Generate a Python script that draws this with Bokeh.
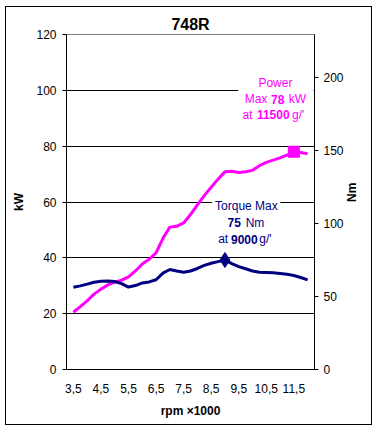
import math
from bokeh.plotting import figure
from bokeh.models import Range1d, LinearAxis, FixedTicker, Label, BoxAnnotation
from bokeh.embed import file_html
from bokeh.resources import INLINE

# ---- data ----
rpm = [3.5, 3.75, 4.0, 4.25, 4.5, 4.75, 5.0, 5.25, 5.5, 5.75, 6.0, 6.25, 6.5, 6.75,
       7.0, 7.25, 7.5, 7.75, 8.0, 8.25, 8.5, 8.75, 9.0, 9.25, 9.5, 9.75, 10.0,
       10.25, 10.5, 10.75, 11.0, 11.25, 11.5, 11.75, 12.0]
power_kw = [20.5, 22.5, 24.6, 27.0, 28.8, 30.3, 31.3, 32.0, 33.2, 35.3, 37.8, 39.5,
            41.8, 47.0, 51.0, 51.3, 52.5, 55.5, 59.0, 62.3, 65.3, 68.2, 70.8, 71.0,
            70.6, 70.8, 71.4, 73.0, 74.2, 75.0, 75.8, 76.8, 78.0, 77.7, 77.3]
torque_nm = [56.4, 57.3, 58.5, 59.8, 60.5, 60.6, 60.3, 58.8, 56.5, 57.5, 59.3, 60.0,
             61.5, 66.0, 68.5, 67.5, 66.6, 67.5, 69.2, 71.3, 72.8, 73.9, 75.0, 72.5,
             70.5, 69.0, 67.5, 66.6, 66.5, 66.2, 65.8, 65.2, 64.4, 63.0, 61.4]
x_ticks = [3.5, 4.5, 5.5, 6.5, 7.5, 8.5, 9.5, 10.5, 11.5]
x_tick_labels = ["3,5", "4,5", "5,5", "6,5", "7,5", "8,5", "9,5", "10,5", "11,5"]
kw_ticks = [0, 20, 40, 60, 80, 100, 120]
nm_ticks = [0, 50, 100, 150, 200]
power_peak_rpm = [11.5]
power_peak_kw = [78]
torque_peak_rpm = [9.0]
torque_peak_nm = [75]

FONT = "Liberation Sans"
MAGENTA = "#FF00FF"
NAVY = "#000080"

# page geometry: outer border 5..372 x 6..425 ; frame 64..318 x 34..369
X0, X1 = 3.25, 12.25
Y0, Y1 = 0, 120
OX, OY = 9, 10          # figure box origin (border drawn 4px outside it)
W, H = 359, 411
FL, FR, FT, FB = 64.0, 318.0, 34.0, 369.0


def dx(px):
    return X0 + (px - FL) * (X1 - X0) / (FR - FL)


def dy(py):
    return Y0 + (FB - py) * (Y1 - Y0) / (FB - FT)


p = figure(width=W, height=H, x_range=Range1d(X0, X1), y_range=Range1d(Y0, Y1),
           output_backend="svg", toolbar_location=None,
           min_border_left=int(FL - OX), min_border_right=int(OX + W - FR),
           min_border_top=int(FT - OY), min_border_bottom=int(OY + H - FB))
p.styles = {"margin-left": f"{OX}px", "margin-top": f"{OY}px",
            "outline": "1px solid black", "outline-offset": "3px"}
p.background_fill_color = "white"
p.border_fill_color = "white"
p.outline_line_color = "#808080"
p.outline_line_width = 1

# title
p.title.text = "748R"
p.title.align = "center"
p.title.text_font = FONT
p.title.text_font_size = "16px"
p.title.text_font_style = "bold"
p.title.text_color = "black"
p.title.standoff = 4
p.title.offset = -3

p.extra_y_ranges = {"nm": Range1d(0, 229.5)}

# grid
p.xgrid.visible = False
p.ygrid.ticker = FixedTicker(ticks=[t for t in kw_ticks if 0 < t < 120])
p.ygrid.grid_line_color = "black"
p.ygrid.grid_line_width = 1


def style_axis(ax, tick_out, standoff):
    ax.major_tick_out = tick_out
    ax.major_tick_in = 0
    ax.minor_tick_out = 0
    ax.minor_tick_in = 0
    ax.major_label_standoff = standoff
    ax.axis_line_color = "black"
    ax.major_tick_line_color = "black"
    ax.major_label_text_font = FONT
    ax.major_label_text_font_size = "12px"
    ax.major_label_text_color = "black"
    ax.axis_label_text_font = FONT
    ax.axis_label_text_font_size = "12px"
    ax.axis_label_text_font_style = "bold"
    ax.axis_label_text_color = "black"


# x axis
xa = p.xaxis[0]
xa.ticker = FixedTicker(ticks=x_ticks)
xa.major_label_overrides = {t: l for t, l in zip(x_ticks, x_tick_labels)}
style_axis(xa, 0, 14)
xa.axis_label = "rpm ×1000"
xa.axis_label_standoff = 8

# left axis
ya = p.yaxis[0]
ya.ticker = FixedTicker(ticks=kw_ticks)
style_axis(ya, 4, 6)
ya.axis_label = "kW"
ya.axis_label_standoff = 7

# right axis
ra = LinearAxis(y_range_name="nm", ticker=FixedTicker(ticks=nm_ticks))
style_axis(ra, 4, 5)
ra.axis_label = "Nm"
ra.axis_label_standoff = 5
ra.axis_label_orientation = math.pi / 2
p.add_layout(ra, "right")

# curves
p.line(rpm, power_kw, line_color=MAGENTA, line_width=3)
p.scatter(power_peak_rpm, power_peak_kw, marker="square", size=11,
          fill_color=MAGENTA, line_color=MAGENTA)
p.line(rpm, torque_nm, line_color=NAVY, line_width=3, y_range_name="nm")
p.scatter(torque_peak_rpm, torque_peak_nm, marker="diamond", size=15,
          fill_color=NAVY, line_color=NAVY, y_range_name="nm")

# white boxes behind annotations
p.add_layout(BoxAnnotation(left=dx(240), right=dx(317), bottom=dy(121), top=dy(74),
                           fill_color="white", fill_alpha=1, line_alpha=0))
p.add_layout(BoxAnnotation(left=dx(213), right=dx(283), bottom=dy(246), top=dy(197),
                           fill_color="white", fill_alpha=1, line_alpha=0))


def lab(text, px, py, color="black", size="12px", bold=False, align="left"):
    p.add_layout(Label(x=dx(px), y=dy(py), text=text, text_color=color,
                       text_font=FONT, text_font_size=size,
                       text_font_style="bold" if bold else "normal",
                       text_align=align, text_baseline="middle"))


# power annotation
lab("Power", 278, 82, MAGENTA, align="center")
lab("Max", 246.5, 98.5, MAGENTA)
lab(f"{power_peak_kw[0]}", 273.5, 98.5, MAGENTA, bold=True)
lab("kW", 291.5, 98.5, MAGENTA)
lab("at", 244.3, 114, MAGENTA)
lab(f"{int(power_peak_rpm[0] * 1000)}", 259, 114, MAGENTA, bold=True)
lab("g/'", 295, 114, MAGENTA)

# torque annotation
lab("Torque Max", 248.3, 205, NAVY, align="center")
lab(f"{torque_peak_nm[0]}", 229, 222, NAVY, bold=True)
lab("Nm", 247.5, 222, NAVY)
lab("at", 219.3, 238.5, NAVY)
lab(f"{int(torque_peak_rpm[0] * 1000)}", 232.5, 238.5, NAVY, bold=True)
lab("g/'", 261.5, 238.5, NAVY)

open("out.html", "w").write(file_html(p, INLINE))
